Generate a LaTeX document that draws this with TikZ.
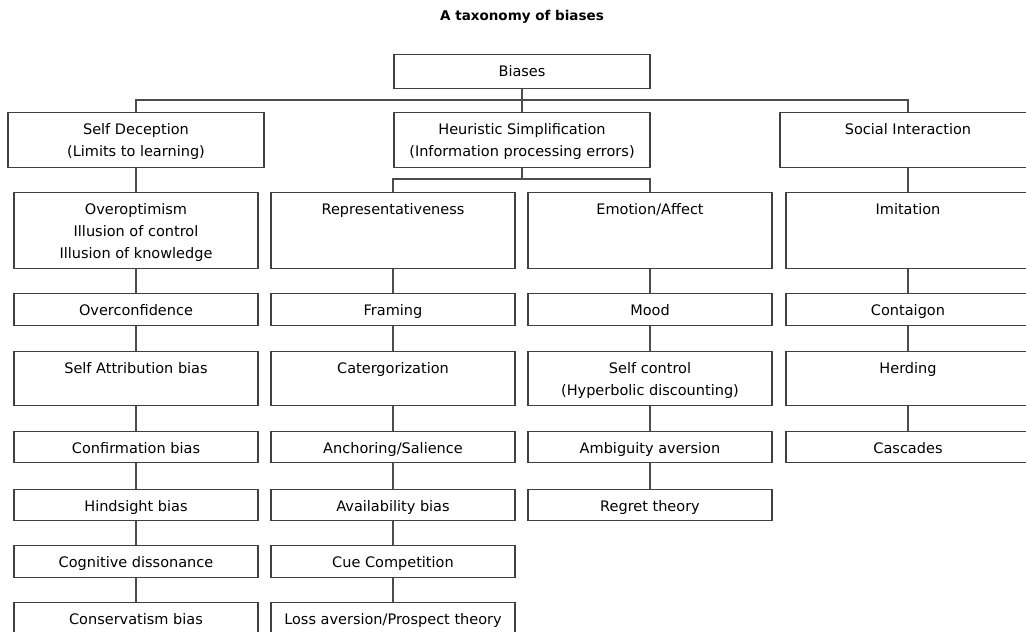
\documentclass[tikz,border=0pt]{standalone}
\usepackage{fontspec}
\setmainfont{DejaVu Sans}
\usepackage{tikz}

% box content: width, height, text (text sits at the top)
\newcommand{\cellbox}[3]{\parbox[c][#2][t]{#1}{\centering\rule{0pt}{22pt}#3}}

\begin{document}
\begin{tikzpicture}[x=1pt,y=-1pt,
    cell/.style={draw=black!75, line width=1.1pt, inner sep=0pt, anchor=north,
      font=\fontsize{14.5}{22}\selectfont},
    link/.style={draw=black!70, line width=1.1pt}]
  \useasboundingbox (0,0) rectangle (1026,632);

  % title
  \node[font=\bfseries\fontsize{13.5}{15}\selectfont] (title) at (522,17) {A taxonomy of biases};

  % root and the three groups
  \node[cell] (biases) at (522,54) {\cellbox{256pt}{34pt}{Biases}};
  \node[cell] (sd) at (136,112) {\cellbox{256pt}{55pt}{Self Deception\\(Limits to learning)}};
  \node[cell] (hs) at (522,112) {\cellbox{256pt}{55pt}{Heuristic Simplification\\(Information processing errors)}};
  \node[cell] (si) at (908,112) {\cellbox{256pt}{55pt}{Social Interaction}};

  % self deception column
  \node[cell] (oo) at (136,192) {\cellbox{244pt}{76pt}{Overoptimism\\Illusion of control\\Illusion of knowledge}};
  \node[cell] (ovc) at (136,293) {\cellbox{244pt}{32pt}{Overconfidence}};
  \node[cell] (sab) at (136,351) {\cellbox{244pt}{54pt}{Self Attribution bias}};
  \node[cell] (cfb) at (136,431) {\cellbox{244pt}{31pt}{Confirmation bias}};
  \node[cell] (hsb) at (136,489) {\cellbox{244pt}{31pt}{Hindsight bias}};
  \node[cell] (cgd) at (136,545) {\cellbox{244pt}{32pt}{Cognitive dissonance}};
  \node[cell] (csb) at (136,602) {\cellbox{244pt}{32pt}{Conservatism bias}};

  % heuristic simplification, two columns
  \node[cell] (rep) at (393,192) {\cellbox{244pt}{76pt}{Representativeness}};
  \node[cell] (frm) at (393,293) {\cellbox{244pt}{32pt}{Framing}};
  \node[cell] (cat) at (393,351) {\cellbox{244pt}{54pt}{Catergorization}};
  \node[cell] (anc) at (393,431) {\cellbox{244pt}{31pt}{Anchoring/Salience}};
  \node[cell] (avb) at (393,489) {\cellbox{244pt}{31pt}{Availability bias}};
  \node[cell] (cue) at (393,545) {\cellbox{244pt}{32pt}{Cue Competition}};
  \node[cell] (loss) at (393,602) {\cellbox{244pt}{32pt}{Loss aversion/Prospect theory}};

  \node[cell] (emo) at (650,192) {\cellbox{244pt}{76pt}{Emotion/Affect}};
  \node[cell] (mood) at (650,293) {\cellbox{244pt}{32pt}{Mood}};
  \node[cell] (sctl) at (650,351) {\cellbox{244pt}{54pt}{Self control\\(Hyperbolic discounting)}};
  \node[cell] (amb) at (650,431) {\cellbox{244pt}{31pt}{Ambiguity aversion}};
  \node[cell] (reg) at (650,489) {\cellbox{244pt}{31pt}{Regret theory}};

  % social interaction column
  \node[cell] (imi) at (908,192) {\cellbox{244pt}{76pt}{Imitation}};
  \node[cell] (cont) at (908,293) {\cellbox{244pt}{32pt}{Contaigon}};
  \node[cell] (herd) at (908,351) {\cellbox{244pt}{54pt}{Herding}};
  \node[cell] (casc) at (908,431) {\cellbox{244pt}{31pt}{Cascades}};

  % connectors
  \coordinate (topbus) at (522,100);
  \draw[link] (biases.south) -- (topbus);
  \draw[link] (topbus) -| (sd.north);
  \draw[link] (topbus) -| (si.north);
  \draw[link] (topbus) -- (hs.north);
  \coordinate (hsbus) at (522,179);
  \draw[link] (hs.south) -- (hsbus);
  \draw[link] (hsbus) -| (rep.north);
  \draw[link] (hsbus) -| (emo.north);

  \draw[link] (sd) -- (oo) -- (ovc) -- (sab) -- (cfb) -- (hsb) -- (cgd) -- (csb);
  \draw[link] (rep) -- (frm) -- (cat) -- (anc) -- (avb) -- (cue) -- (loss);
  \draw[link] (emo) -- (mood) -- (sctl) -- (amb) -- (reg);
  \draw[link] (si) -- (imi) -- (cont) -- (herd) -- (casc);
\end{tikzpicture}
\end{document}
